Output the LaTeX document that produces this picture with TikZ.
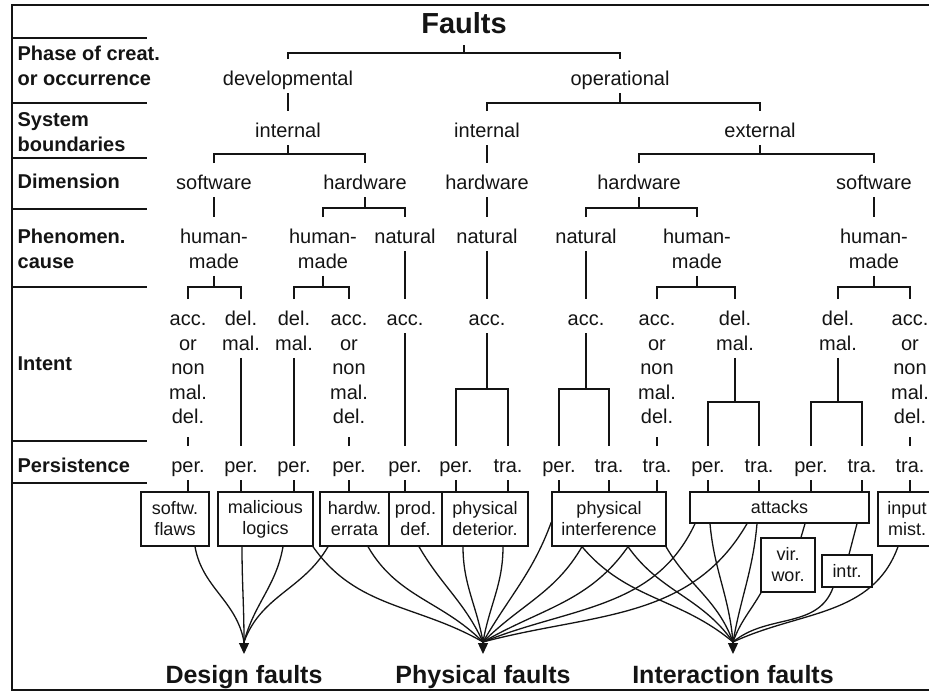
\documentclass[tikz,border=0pt]{standalone}
\usepackage{fontspec}
\setmainfont{Liberation Sans}
\usetikzlibrary{positioning,arrows.meta}

% struts: fixed top/bottom of a label
\newcommand\tp{\rule{0pt}{26pt}}
\newcommand\bt{\rule[-7pt]{0pt}{7pt}}
% parent, bar, left child, right child
\newcommand\fork[4]{%
  \draw (#1.south) -- (#1.south |- 0,#2);
  \draw (#3.north) |- (#1.south |- 0,#2) -| (#4.north);}

\begin{document}
\begin{tikzpicture}[x=1pt, y=-1pt, line width=1.3pt, color=black!92,
    lbl/.style={font=\fontsize{20}{24.5}\selectfont, align=center, inner sep=0pt, anchor=north},
    row/.style={font=\bfseries\fontsize{20}{24.5}\selectfont, align=left, inner sep=0pt, anchor=north west},
    box/.style={draw, font=\fontsize{18}{21}\selectfont, align=center, inner sep=0pt, minimum height=54pt},
    big/.style={font=\bfseries\fontsize{25}{30}\selectfont, inner sep=0pt},
    arr/.style={-{Triangle[length=11pt,width=10pt]}}]

	\useasboundingbox (0,0) rectangle (929,697);
	\clip (0,0) rectangle (929,697);

	% frame and rows
	\draw (940,5) -- (12,5) -- (12,690) -- (940,690);
	\foreach \y in {38,103,158,209,287,441,483}
		\draw (12,\y) -- (147,\y);

	\node[row] (rphase) at (17,34) {\tp Phase of creat.\\or occurrence};
	\node[row] (rbound) at (17,100) {\tp System\\boundaries};
	\node[row] (rdim) at (17,162) {\tp Dimension};
	\node[row] (rcause) at (17,217) {\tp Phenomen.\\cause};
	\node[row] (rintent) at (17,344) {\tp Intent};
	\node[row] (rpers) at (17,446) {\tp Persistence};

	% tree
	\node[font=\bfseries\fontsize{29}{34}\selectfont, inner sep=0pt] (faults) at (464,23) {Faults};

	\node[lbl] (dev) at (288,59) {\tp developmental\bt};
	\node[lbl] (op) at (620,59) {\tp operational\bt};

	\node[lbl] (devint) at (288,111) {\tp internal\bt};
	\node[lbl] (opint) at (487,111) {\tp internal\bt};
	\node[lbl] (ext) at (760,111) {\tp external\bt};

	\node[lbl] (dsw) at (214,163) {\tp software\bt};
	\node[lbl] (dhw) at (365,163) {\tp hardware\bt};
	\node[lbl] (ohw) at (487,163) {\tp hardware\bt};
	\node[lbl] (ehw) at (639,163) {\tp hardware\bt};
	\node[lbl] (esw) at (874,163) {\tp software\bt};

	\node[lbl] (dswhm) at (214,217) {\tp human-\\made\bt};
	\node[lbl] (dhwhm) at (323,217) {\tp human-\\made\bt};
	\node[lbl] (dhwnat) at (405,217) {\tp natural\bt};
	\node[lbl] (ohwnat) at (487,217) {\tp natural\bt};
	\node[lbl] (ehwnat) at (586,217) {\tp natural\bt};
	\node[lbl] (ehwhm) at (697,217) {\tp human-\\made\bt};
	\node[lbl] (eswhm) at (874,217) {\tp human-\\made\bt};

	\node[lbl] (i1) at (188,299) {\tp acc.\\or\\non\\mal.\\del.\bt};
	\node[lbl] (i2) at (241,299) {\tp del.\\mal.\bt};
	\node[lbl] (i3) at (294,299) {\tp del.\\mal.\bt};
	\node[lbl] (i4) at (349,299) {\tp acc.\\or\\non\\mal.\\del.\bt};
	\node[lbl] (i5) at (405,299) {\tp acc.\bt};
	\node[lbl] (i6) at (487,299) {\tp acc.\bt};
	\node[lbl] (i7) at (586,299) {\tp acc.\bt};
	\node[lbl] (i8) at (657,299) {\tp acc.\\or\\non\\mal.\\del.\bt};
	\node[lbl] (i9) at (735,299) {\tp del.\\mal.\bt};
	\node[lbl] (i10) at (838,299) {\tp del.\\mal.\bt};
	\node[lbl] (i11) at (910,299) {\tp acc.\\or\\non\\mal.\\del.\bt};

	\foreach \n/\x/\t in {1/188/per., 2/241/per., 3/294/per., 4/349/per., 5/405/per.,
			6/456/per., 7/508/tra., 8/559/per., 9/609/tra., 10/657/tra.,
			11/708/per., 12/759/tra., 13/811/per., 14/862/tra., 15/910/tra.}
		\node[lbl] (p\n) at (\x,446) {\tp\t\bt};

	\draw[shorten <=11pt] (faults.south) -- (faults.south |- 0,53);
	\draw (dev.north) |- (faults.south |- 0,53) -| (op.north);
	\draw (dev.south) -- (devint.north);
	\fork{op}{103}{opint}{ext}
	\fork{devint}{154}{dsw}{dhw}
	\draw (opint.south) -- (ohw.north);
	\fork{ext}{154}{ehw}{esw}
	\draw (dsw.south) -- (dswhm.north);
	\fork{dhw}{208}{dhwhm}{dhwnat}
	\draw (ohw.south) -- (ohwnat.north);
	\fork{ehw}{208}{ehwnat}{ehwhm}
	\draw (esw.south) -- (eswhm.north);
	\fork{dswhm}{287}{i1}{i2}
	\fork{dhwhm}{287}{i3}{i4}
	\draw (dhwnat.south) -- (i5.north);
	\draw (ohwnat.south) -- (i6.north);
	\draw (ehwnat.south) -- (i7.north);
	\fork{ehwhm}{287}{i8}{i9}
	\fork{eswhm}{287}{i10}{i11}

	% short ticks under the long intent labels
	\foreach \n in {1,4,10,15}
		\draw (p\n.north) -- ++(0,-9);
	\draw (i2.south) -- (p2.north);
	\draw (i3.south) -- (p3.north);
	\draw (i5.south) -- (p5.north);
	\fork{i6}{389}{p6}{p7}
	\fork{i7}{389}{p8}{p9}
	\fork{i9}{402}{p11}{p12}
	\fork{i10}{402}{p13}{p14}

	% fault classes
	\node[box, minimum width=68pt] (b1) at (175,519) {softw.\\flaws};
	\node[box, minimum width=95pt] (b2) at (265.5,519) {malicious\\logics};
	\node[box, minimum width=69pt] (b3) at (354.5,519) {hardw.\\errata};
	\node[box, minimum width=53pt] (b4) at (415.5,519) {prod.\\def.};
	\node[box, minimum width=86pt] (b5) at (485,519) {physical\\deterior.};
	\node[box, minimum width=114pt] (b6) at (609,519) {physical\\interference};
	\node[box, minimum width=179pt, minimum height=31pt] (b7) at (779.5,507.5) {attacks};
	\node[box, minimum width=58pt] (b8) at (907,519) {input\\mist.};
	\node[box, minimum width=54pt] (b9) at (788,565) {vir.\\wor.};
	\node[box, minimum width=50pt, minimum height=32pt] (b10) at (847,571) {intr.};

	\foreach \n/\b in {1/b1, 2/b2, 3/b2, 4/b3, 5/b4, 6/b5, 7/b5, 8/b6, 9/b6, 10/b6,
			11/b7, 12/b7, 13/b7, 14/b7, 15/b8}
		\draw (p\n.south) -- (p\n.south |- \b.north);
	\draw (b7.south -| 805,0) -- (b9.north -| 801,0);
	\draw (b7.south -| 857,0) -- (b10.north -| 849,0);

	% groups
	\coordinate (dsg) at (244,642);
	\coordinate (phy) at (483,642);
	\coordinate (itr) at (733,642);
	\coordinate (dsgt) at (244,654);
	\coordinate (phyt) at (483,654);
	\coordinate (itrt) at (733,654);
	\draw[arr] (dsg) -- (dsgt);
	\draw[arr] (phy) -- (phyt);
	\draw[arr] (itr) -- (itrt);
	\node[big, below=11pt of dsgt] (design) {Design faults};
	\node[big, below=11pt of phyt] (physical) {Physical faults};
	\node[big, below=11pt of itrt] (interaction) {Interaction faults};

	\foreach \b/\x/\o/\i in {b1/195/-80/100, b2/242/-90/90, b2/283/-100/75, b3/328/-120/70}
		\draw (\b.south -| \x,0) to[out=\o, in=\i] (dsg);
	\foreach \b/\x/\o/\i in {b2/313/-55/150, b3/368/-60/135, b4/419/-60/115, b5/463/-90/100,
			b5/503/-90/80, b6/582/-120/45, b6/628/-125/30, b7/695/-115/22, b7/747/-120/15}
		\draw (\b.south -| \x,0) to[out=\o, in=\i] (phy);
	\draw ([yshift=-3pt]b6.west) to[out=-110, in=60] (phy);
	\foreach \b/\x/\o/\i in {b6/582/-50/140, b6/628/-55/125, b6/666/-60/110, b7/710/-85/95,
			b7/757/-95/80, b9/761/-120/70, b10/833/-110/40, b8/898/-110/25}
		\draw (\b.south -| \x,0) to[out=\o, in=\i] (itr);
\end{tikzpicture}
\end{document}
